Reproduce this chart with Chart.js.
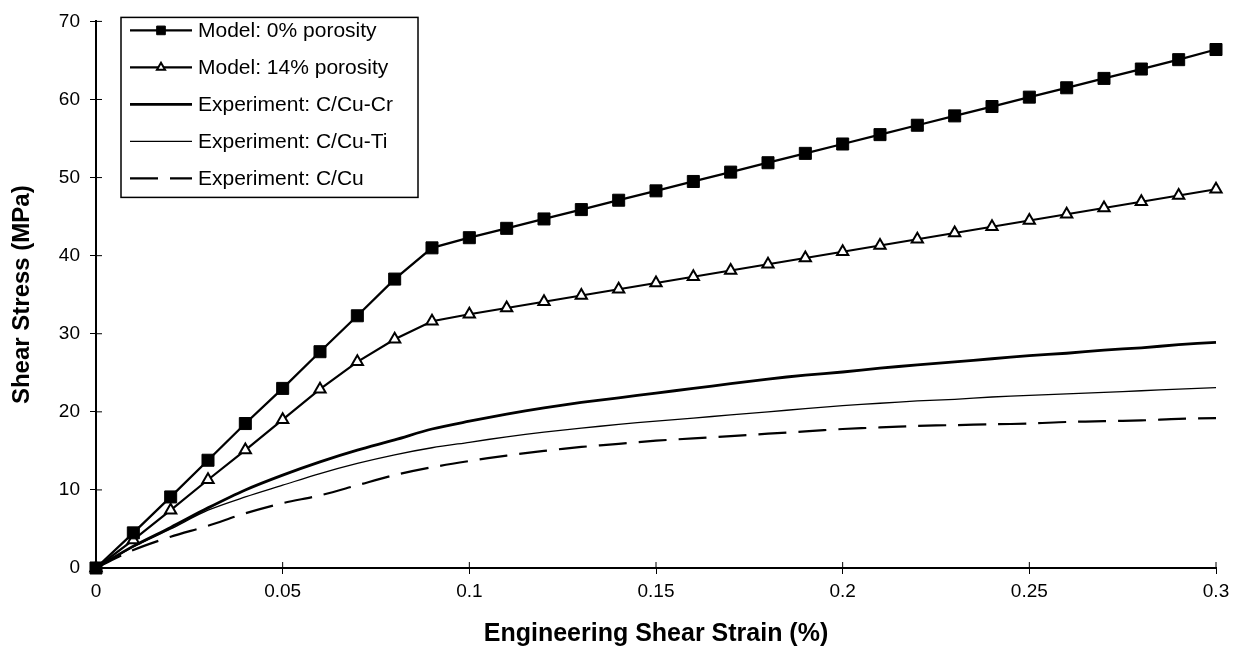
<!DOCTYPE html>
<html>
<head>
<meta charset="utf-8">
<script src="https://cdn.jsdelivr.net/npm/chart.js@4/dist/chart.umd.min.js"></script>
<style>
    html, body { margin: 0; padding: 0; background: #fff; }
    #wrap { width: 1236px; height: 651px; }
</style>
</head>
<body>
<div id="wrap"><canvas id="shearChart" width="1236" height="651"></canvas></div>
<script>
// strain values (%), one point every 0.01
const strain = [0, 0.01, 0.02, 0.03, 0.04, 0.05, 0.06, 0.07, 0.08, 0.09, 0.10,
    0.11, 0.12, 0.13, 0.14, 0.15, 0.16, 0.17, 0.18, 0.19, 0.20,
    0.21, 0.22, 0.23, 0.24, 0.25, 0.26, 0.27, 0.28, 0.29, 0.30];

// shear stress (MPa)
const model0 = [0, 4.5, 9.1, 13.8, 18.5, 23.0, 27.7, 32.3, 37.0, 41.0, 42.3,
    43.5, 44.7, 45.9, 47.1, 48.3, 49.5, 50.7, 51.9, 53.1, 54.3,
    55.5, 56.7, 57.9, 59.1, 60.3, 61.5, 62.7, 63.9, 65.1, 66.4];
const model14 = [0, 3.6, 7.4, 11.3, 15.1, 19.0, 22.9, 26.4, 29.3, 31.6, 32.5,
    33.3, 34.1, 34.9, 35.7, 36.5, 37.3, 38.1, 38.9, 39.7, 40.5,
    41.3, 42.1, 42.9, 43.7, 44.5, 45.3, 46.1, 46.9, 47.7, 48.5];
const expCuCr = [0, 2.8, 5.2, 7.7, 10.0, 11.9, 13.6, 15.1, 16.4, 17.8, 18.8,
    19.7, 20.5, 21.2, 21.8, 22.4, 23.0, 23.6, 24.2, 24.7, 25.1,
    25.6, 26.0, 26.4, 26.8, 27.2, 27.5, 27.9, 28.2, 28.6, 28.9];
const expCuTi = [0, 2.7, 5.0, 7.4, 9.1, 10.6, 12.1, 13.4, 14.5, 15.4, 16.1,
    16.8, 17.4, 17.9, 18.4, 18.8, 19.2, 19.6, 20.0, 20.4, 20.8,
    21.1, 21.4, 21.6, 21.9, 22.1, 22.3, 22.5, 22.7, 22.9, 23.1];
const expCu = [0, 2.3, 4.0, 5.4, 7.0, 8.3, 9.3, 10.6, 11.9, 12.9, 13.7,
    14.4, 15.0, 15.5, 15.9, 16.3, 16.6, 16.9, 17.2, 17.5, 17.8,
    18.0, 18.2, 18.3, 18.4, 18.5, 18.7, 18.8, 18.9, 19.1, 19.2];

const xTicks = [0, 0.05, 0.1, 0.15, 0.2, 0.25, 0.3];
const yTicks = [0, 10, 20, 30, 40, 50, 60, 70];

const FONT = "'Liberation Sans', Arial, sans-serif";

const toPoints = ys => strain.map((x, i) => ({ x: x, y: ys[i] }));

// legend drawn inside the plot, with line + marker samples
const boxLegend = {
    id: 'boxLegend',
    afterDraw(chart) {
        const ctx = chart.ctx;
        const area = chart.chartArea;
        const left = area.left + 25, top = area.top - 4;
        const w = 297, h = 180;
        ctx.save();
        ctx.fillStyle = '#fff';
        ctx.fillRect(left, top, w, h);
        ctx.strokeStyle = '#000';
        ctx.lineWidth = 1.5;
        ctx.strokeRect(left, top, w, h);
        chart.data.datasets.forEach((ds, i) => {
            const y = top + 13 + i * 37;
            const x0 = left + 9, x1 = left + 71;
            ctx.beginPath();
            ctx.strokeStyle = '#000';
            ctx.lineWidth = ds.borderWidth;
            ctx.setLineDash(ds.borderDash || []);
            ctx.moveTo(x0, y);
            ctx.lineTo(x1, y);
            ctx.stroke();
            ctx.setLineDash([]);
            if (ds.pointRadius > 0) {
                ctx.fillStyle = ds.pointBackgroundColor;
                ctx.strokeStyle = ds.pointBorderColor;
                ctx.lineWidth = ds.pointBorderWidth;
                Chart.helpers.drawPoint(ctx, {
                    pointStyle: ds.pointStyle,
                    radius: ds.pointRadius * 0.72,
                    borderWidth: ds.pointBorderWidth
                }, (x0 + x1) / 2, y);
            }
            ctx.fillStyle = '#000';
            ctx.font = '21px ' + FONT;
            ctx.textBaseline = 'middle';
            ctx.fillText(ds.label, left + 77, y + 1);
        });
        ctx.restore();
    }
};

// tick marks crossing into the plot area
const innerTicks = {
    id: 'innerTicks',
    afterDraw(chart) {
        const ctx = chart.ctx;
        const xs = chart.scales.x, ys = chart.scales.y;
        ctx.save();
        ctx.strokeStyle = '#000';
        ctx.lineWidth = 1;
        ctx.beginPath();
        xTicks.forEach(v => {
            const px = xs.getPixelForValue(v);
            ctx.moveTo(px, ys.bottom);
            ctx.lineTo(px, ys.bottom - 6);
        });
        yTicks.forEach(v => {
            const py = ys.getPixelForValue(v);
            ctx.moveTo(xs.left, py);
            ctx.lineTo(xs.left + 6, py);
        });
        ctx.stroke();
        ctx.restore();
    }
};

const ctx = document.getElementById('shearChart').getContext('2d');
new Chart(ctx, {
    type: 'line',
    data: {
        datasets: [{
            label: 'Model: 0% porosity',
            data: toPoints(model0),
            borderColor: '#000',
            borderWidth: 2.3,
            pointStyle: 'rect',
            pointRadius: 8.5,
            pointBorderWidth: 1,
            pointBackgroundColor: '#000',
            pointBorderColor: '#000',
            tension: 0
        }, {
            label: 'Model: 14% porosity',
            data: toPoints(model14),
            borderColor: '#000',
            borderWidth: 2.2,
            pointStyle: 'triangle',
            pointRadius: 6.5,
            pointBorderWidth: 2,
            pointBackgroundColor: '#fff',
            pointBorderColor: '#000',
            tension: 0
        }, {
            label: 'Experiment: C/Cu-Cr',
            data: toPoints(expCuCr),
            borderColor: '#000',
            borderWidth: 2.8,
            pointRadius: 0,
            tension: 0.3
        }, {
            label: 'Experiment: C/Cu-Ti',
            data: toPoints(expCuTi),
            borderColor: '#000',
            borderWidth: 1.3,
            pointRadius: 0,
            tension: 0.3
        }, {
            label: 'Experiment: C/Cu',
            data: toPoints(expCu),
            borderColor: '#000',
            borderWidth: 2.2,
            borderDash: [28, 12],
            pointRadius: 0,
            tension: 0.3
        }]
    },
    options: {
        responsive: false,
        animation: false,
        clip: false,
        layout: { padding: { top: 21, right: 20, left: 0, bottom: 0 } },
        plugins: {
            legend: { display: false },
            tooltip: { enabled: false }
        },
        scales: {
            x: {
                type: 'linear',
                min: 0,
                max: 0.3,
                afterFit: s => { s.height = 83; },
                afterBuildTicks: s => { s.ticks = xTicks.map(v => ({ value: v })); },
                ticks: {
                    color: '#000',
                    padding: 6,
                    maxRotation: 0,
                    font: { family: FONT, size: 19 },
                    callback: v => String(parseFloat(v.toFixed(2)))
                },
                grid: { drawOnChartArea: false, color: '#000', tickLength: 6 },
                border: { color: '#000', width: 2 },
                title: {
                    display: true,
                    text: 'Engineering Shear Strain (%)',
                    color: '#000',
                    font: { family: FONT, size: 25, weight: 'bold' },
                    padding: { bottom: 2 }
                }
            },
            y: {
                min: 0,
                max: 70,
                afterFit: s => { s.width = 96; },
                afterBuildTicks: s => { s.ticks = yTicks.map(v => ({ value: v })); },
                ticks: {
                    color: '#000',
                    padding: 10,
                    font: { family: FONT, size: 19 }
                },
                grid: { drawOnChartArea: false, color: '#000', tickLength: 6 },
                border: { color: '#000', width: 2 },
                title: {
                    display: true,
                    text: 'Shear Stress (MPa)',
                    color: '#000',
                    font: { family: FONT, size: 24, weight: 'bold' },
                    padding: { top: 8 }
                }
            }
        }
    },
    plugins: [innerTicks, boxLegend]
});
</script>
</body>
</html>
